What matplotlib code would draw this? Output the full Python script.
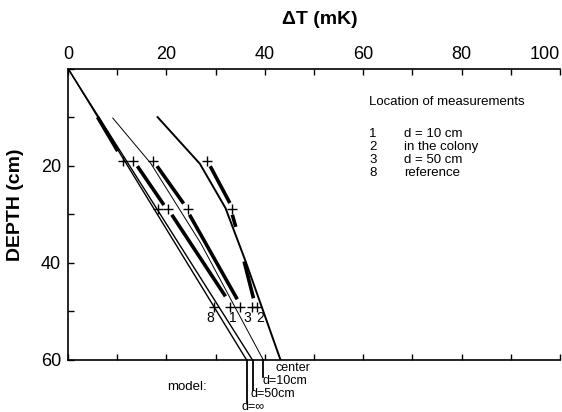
import matplotlib
matplotlib.use('Agg')
import matplotlib.pyplot as plt

plt.rcParams['font.family'] = ['Liberation Sans', 'DejaVu Sans']

# ---------------- data ----------------
x_ticks = [0, 10, 20, 30, 40, 50, 60, 70, 80, 90, 100]
x_tick_labels = ['0', '', '20', '', '40', '', '60', '', '80', '', '100']
y_ticks = [0, 10, 20, 30, 40, 50, 60]
y_tick_labels = ['', '', '20', '', '40', '', '60']

# measurement depths (cm) and marker positions (mK)
row_depths = [19, 29, 49]
row1_x = [11.2, 13.2, 17.3, 28.3]
row2_x = [18.2, 20.3, 24.4, 33.4]
row3_x = [29.7, 32.9, 34.9, 37.4, 38.5]

# measured gradients (bold segments): start x, start depth, end x, end depth
seg_x0 = [6.0, 14.1, 18.1, 28.9, 21.1, 24.7, 33.4, 35.8]
seg_d0 = [10.0, 20.1, 20.1, 20.1, 30.1, 30.1, 30.1, 39.7]
seg_x1 = [10.1, 19.5, 23.5, 32.9, 32.0, 34.4, 34.1, 37.7]
seg_d1 = [17.0, 28.1, 27.8, 27.7, 46.9, 47.5, 32.6, 47.3]

# location labels near the deepest markers
loc_labels = ['8', '1', '3', '2']
loc_label_x = [29.0, 33.5, 36.5, 39.1]
loc_label_depth = 51.3

# model curves
model_inf_x = [0.0, 36.3]
model_inf_d = [0.0, 60.0]
model_50_x = [0.0, 37.5]
model_50_d = [0.0, 60.0]
model_10_x = [9.1, 16.8, 27.0, 39.7]
model_10_d = [10.2, 19.5, 36.0, 60.0]
model_c_x = [18.2, 26.8, 32.0, 36.1, 43.2]
model_c_d = [10.0, 19.6, 28.7, 39.7, 60.0]

# leaders from the model curves to their labels (below the axis)
leader_x = [36.3, 37.5, 39.7]
leader_end = [68.9, 66.2, 63.6]
model_labels = ['center', 'd=10cm', 'd=50cm', 'd=\u221e']
model_label_x = [42.1, 39.6, 37.0, 35.3]
model_label_depth = [61.6, 64.3, 67.0, 69.6]

legend_title = 'Location of measurements'
legend_nums = ['1', '2', '3', '8']
legend_names = ['d = 10 cm', 'in the colony', 'd = 50 cm', 'reference']

# ---------------- figure ----------------
fig = plt.figure(figsize=(5.62, 4.12), dpi=100)
ax = fig.add_axes([68 / 562, 1 - 360 / 412, (560 - 68) / 562, (360 - 68.5) / 412])
ax.set_xlim(0, 100)
ax.set_ylim(60, 0)

for s in ['top', 'left', 'bottom']:
    ax.spines[s].set_linewidth(1.2)
ax.spines['right'].set_visible(False)

ax.xaxis.tick_top()
ax.set_xticks(x_ticks)
ax.set_xticklabels(x_tick_labels)
ax.tick_params(axis='x', which='both', direction='in', length=4, width=1,
               top=True, bottom=True, labeltop=True, labelbottom=False,
               labelsize=13, pad=4)
ax.get_xticklabels()[-1].set_horizontalalignment('right')
ax.set_yticks(y_ticks)
ax.set_yticklabels(y_tick_labels)
ax.tick_params(axis='y', direction='in', length=4, width=1, labelsize=13, pad=5)

fig.text(0.569, 1 - 20 / 412, '\u0394T (mK)', ha='center', va='center',
         fontsize=14, fontweight='bold')
fig.text(16 / 562, 1 - 205 / 412, 'DEPTH (cm)', ha='center', va='center',
         rotation=90, fontsize=14, fontweight='bold')

# model curves
ax.plot(model_inf_x, model_inf_d, color='black', lw=1.0)
ax.plot(model_50_x, model_50_d, color='black', lw=1.0)
ax.plot(model_10_x, model_10_d, color='black', lw=0.7)
ax.plot(model_c_x, model_c_d, color='black', lw=1.4)

for lx, le in zip(leader_x, leader_end):
    ax.plot([lx, lx], [60, le], color='black', lw=1.3, clip_on=False)
for lab, lx, ld in zip(model_labels, model_label_x, model_label_depth):
    ax.text(lx, ld, lab, ha='left', va='center', fontsize=9, clip_on=False)
ax.text(20.1, 65.6, 'model:', ha='left', va='center', fontsize=9.5, clip_on=False)

# measured gradients
for x0, d0, x1, d1 in zip(seg_x0, seg_d0, seg_x1, seg_d1):
    ax.plot([x0, x1], [d0, d1], color='black', lw=2.6, solid_capstyle='butt')

# markers
for xs, d in zip([row1_x, row2_x, row3_x], row_depths):
    ax.plot(xs, [d] * len(xs), linestyle='none', marker='+', markersize=6.5,
            markeredgewidth=1.0, color='black')

for lab, lx in zip(loc_labels, loc_label_x):
    ax.text(lx, loc_label_depth, lab, ha='center', va='center', fontsize=10)

# legend block
ax.text(61.2, 6.8, legend_title, ha='left', va='center', fontsize=9.5)
for i, (n, name) in enumerate(zip(legend_nums, legend_names)):
    d = 13.4 + i * 2.7
    ax.text(61.2, d, n, ha='left', va='center', fontsize=9.5)
    ax.text(68.3, d, name, ha='left', va='center', fontsize=9.5)

fig.savefig('out.png', dpi=100)
